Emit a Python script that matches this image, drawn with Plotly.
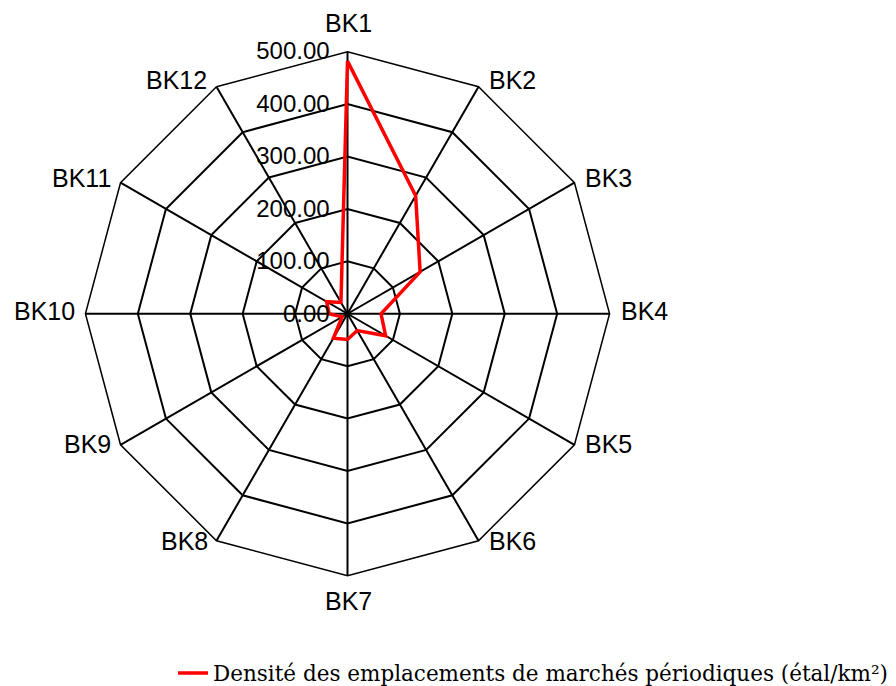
import math
import plotly.graph_objects as go

categories = ["BK1", "BK2", "BK3", "BK4", "BK5", "BK6", "BK7", "BK8", "BK9", "BK10", "BK11", "BK12"]
density = [482, 260, 160, 64, 84, 37, 49, 54, 12, 35, 46, 25]
radial_ticks = [0, 100, 200, 300, 400, 500]
series_name = "Densité des emplacements de marchés périodiques (étal/km²)"

fig = go.Figure()
fig.add_trace(go.Scatterpolar(
    r=density + density[:1],
    theta=categories + categories[:1],
    mode="lines",
    line=dict(color="#ff0000", width=3.5),
    name=series_name,
))

W, H = 896, 686
# polar domain (figure pixels)
cx, cy, R = 339.5, 308, 264
# geometry of the drawn web (figure pixels) used to place the category labels
wcx, wcy, wR = 340, 305, 260

label_font = dict(family="Liberation Sans, Arial", size=25, color="black")
annotations = []
n = len(categories)
for i, name in enumerate(categories):
    th = 2 * math.pi * i / n
    s, c = math.sin(th), math.cos(th)
    vx, vy = wcx + wR * s, wcy - wR * c
    if abs(s) < 0.01:
        px, xa = vx, "center"
        py = vy - 30 if c > 0 else vy + 32
    else:
        gap = 6 + 5 * abs(s)
        px = vx + gap if s > 0 else vx - gap
        xa = "left" if s > 0 else "right"
        py = vy - 8 * c
    annotations.append(dict(
        text=name, x=px / W, y=1 - py / H, xref="paper", yref="paper",
        xanchor=xa, yanchor="middle", showarrow=False, font=label_font,
    ))

fig.update_layout(
    width=W, height=H,
    margin=dict(l=0, r=0, t=0, b=0),
    paper_bgcolor="white",
    plot_bgcolor="white",
    showlegend=True,
    annotations=annotations,
    legend=dict(
        orientation="h", x=165 / W, y=(H - 670) / H, xanchor="left", yanchor="middle",
        font=dict(family="DejaVu Serif", size=21.5, color="black"),
    ),
    polar=dict(
        domain=dict(x=[(cx - R) / W, (cx + R) / W], y=[(H - cy - R) / H, (H - cy + R) / H]),
        bgcolor="white",
        gridshape="linear",
        angularaxis=dict(
            rotation=90, direction="clockwise",
            showline=True, linecolor="black", linewidth=1.5,
            gridcolor="black", gridwidth=1.5,
            ticks="", showticklabels=False,
        ),
        radialaxis=dict(
            range=[0, 500], tickvals=radial_ticks, tickformat=".2f",
            angle=90, tickangle=90, side="counterclockwise",
            showline=False, gridcolor="black", gridwidth=1.5,
            ticks="outside", ticklen=9, tickcolor="rgba(0,0,0,0)",
            tickfont=dict(family="Liberation Sans, Arial", size=24, color="black"),
        ),
    ),
)

fig.write_html("out.html")
